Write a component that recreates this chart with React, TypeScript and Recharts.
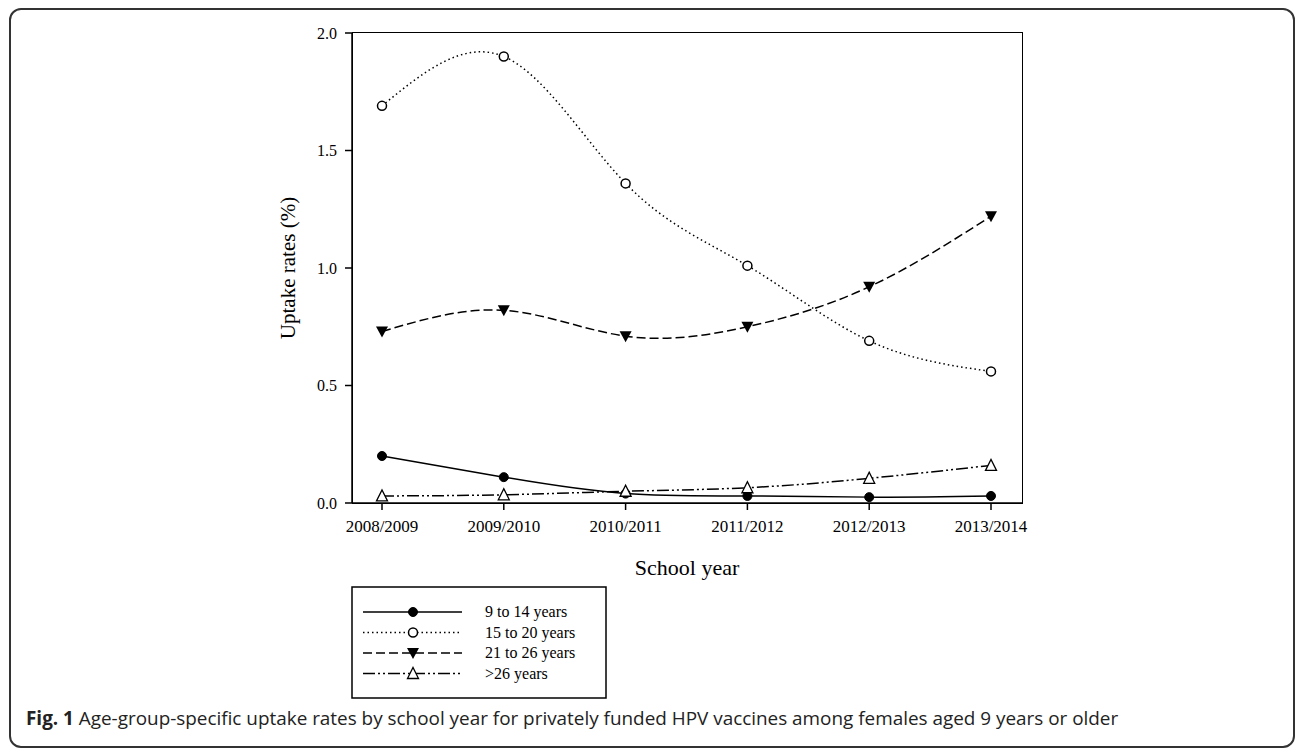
import { LineChart, Line, XAxis, YAxis } from "recharts";

const years = ["2008/2009", "2009/2010", "2010/2011", "2011/2012", "2012/2013", "2013/2014"];
const age9to14 = [0.2, 0.11, 0.04, 0.03, 0.025, 0.03];
const age15to20 = [1.69, 1.9, 1.36, 1.01, 0.69, 0.56];
const age21to26 = [0.73, 0.82, 0.71, 0.75, 0.92, 1.22];
const ageOver26 = [0.03, 0.035, 0.05, 0.065, 0.105, 0.16];
const yTicks = [0, 0.5, 1, 1.5, 2];

const data = years.map((year, i) => ({
  year,
  a: age9to14[i],
  b: age15to20[i],
  c: age21to26[i],
  d: ageOver26[i],
}));

const serif = "'Liberation Serif', 'Times New Roman', serif";

const FilledCircle = (p: any) => <circle cx={p.cx} cy={p.cy} r={4.5} fill="#000" stroke="#000" strokeWidth={1} />;
const OpenCircle = (p: any) => <circle cx={p.cx} cy={p.cy} r={4.5} fill="#fff" stroke="#000" strokeWidth={1.5} />;
const DownTri = (p: any) => (
  <path d={`M${p.cx - 6},${p.cy - 5} L${p.cx + 6},${p.cy - 5} L${p.cx},${p.cy + 6} Z`} fill="#000" />
);
const UpTri = (p: any) => (
  <path d={`M${p.cx - 5.5},${p.cy + 5} L${p.cx + 5.5},${p.cy + 5} L${p.cx},${p.cy - 6} Z`} fill="#fff" stroke="#000" strokeWidth={1.3} />
);

const series = [
  { key: "a", name: "9 to 14 years", dash: undefined, Dot: FilledCircle },
  { key: "b", name: "15 to 20 years", dash: "1.5 3", Dot: OpenCircle },
  { key: "c", name: "21 to 26 years", dash: "9 4", Dot: DownTri },
  { key: "d", name: ">26 years", dash: "12 3 2 3 2 3", Dot: UpTri },
];

const LegendBox = () => (
  <svg width={256} height={113} style={{ position: "absolute", left: 351, top: 586 }}>
    <rect x={1} y={1} width={254} height={111} fill="#fff" stroke="#000" strokeWidth={1.5} />
    {series.map((s, i) => {
      const y = 26 + i * 20.5;
      const Dot = s.Dot;
      return (
        <g key={s.key}>
          <line x1={12} x2={111} y1={y} y2={y} stroke="#000" strokeWidth={1.5} strokeDasharray={s.dash} />
          <Dot cx={62} cy={y} />
          <text x={134} y={y + 5} fontFamily={serif} fontSize={16} fill="#000">
            {s.name}
          </text>
        </g>
      );
    })}
  </svg>
);

export default function App() {
  return (
    <div style={{ position: "absolute", left: 0, top: 0, width: 1295, height: 749, background: "#fff" }}>
      <div
        style={{
          position: "absolute",
          left: 9,
          top: 8,
          width: 1282,
          height: 736,
          border: "2px solid #333",
          borderRadius: 12,
        }}
      />
      <div style={{ position: "absolute", left: 0, top: 0 }}>
        <LineChart width={1295} height={749} data={data} margin={{ top: 33, left: 292, right: 273, bottom: 206 }}>
          <XAxis
            dataKey="year"
            padding={{ left: 30, right: 31 }}
            height={40}
            stroke="#000"
            strokeWidth={1.5}
            tickSize={7}
            tickMargin={10}
            tick={{ fill: "#000", fontFamily: serif, fontSize: 17 }}
            interval={0}
            label={{ value: "School year", position: "insideBottom", offset: -32, fill: "#000", fontFamily: serif, fontSize: 22 }}
          />
          <YAxis
            domain={[0, 2]}
            ticks={yTicks}
            width={60}
            stroke="#000"
            strokeWidth={1.5}
            tickSize={7}
            tickMargin={8}
            tickFormatter={(v: number) => v.toFixed(1)}
            tick={{ fill: "#000", fontFamily: serif, fontSize: 16 }}
            label={{ value: "Uptake rates (%)", angle: -90, position: "insideLeft", offset: -4, fill: "#000", fontFamily: serif, fontSize: 21, style: { textAnchor: "middle" } }}
          />
          {series.map((s) => (
            <Line
              key={s.key}
              type="natural"
              dataKey={s.key}
              name={s.name}
              stroke="#000"
              strokeWidth={1.5}
              strokeDasharray={s.dash}
              dot={<s.Dot />}
              activeDot={false}
              isAnimationActive={false}
            />
          ))}
        </LineChart>
      </div>
      <div
        style={{
          position: "absolute",
          left: 352,
          top: 32,
          width: 669,
          height: 470,
          border: "1.5px solid #000",
          pointerEvents: "none",
        }}
      />
      <LegendBox />
      <div
        style={{
          position: "absolute",
          left: 26,
          top: 705,
          fontFamily: "'Open Sans', sans-serif",
          fontSize: 18.9,
          color: "#222",
          whiteSpace: "nowrap",
        }}
      >
        <b>Fig. 1</b> Age-group-specific uptake rates by school year for privately funded HPV vaccines among females aged 9 years or older
      </div>
    </div>
  );
}
